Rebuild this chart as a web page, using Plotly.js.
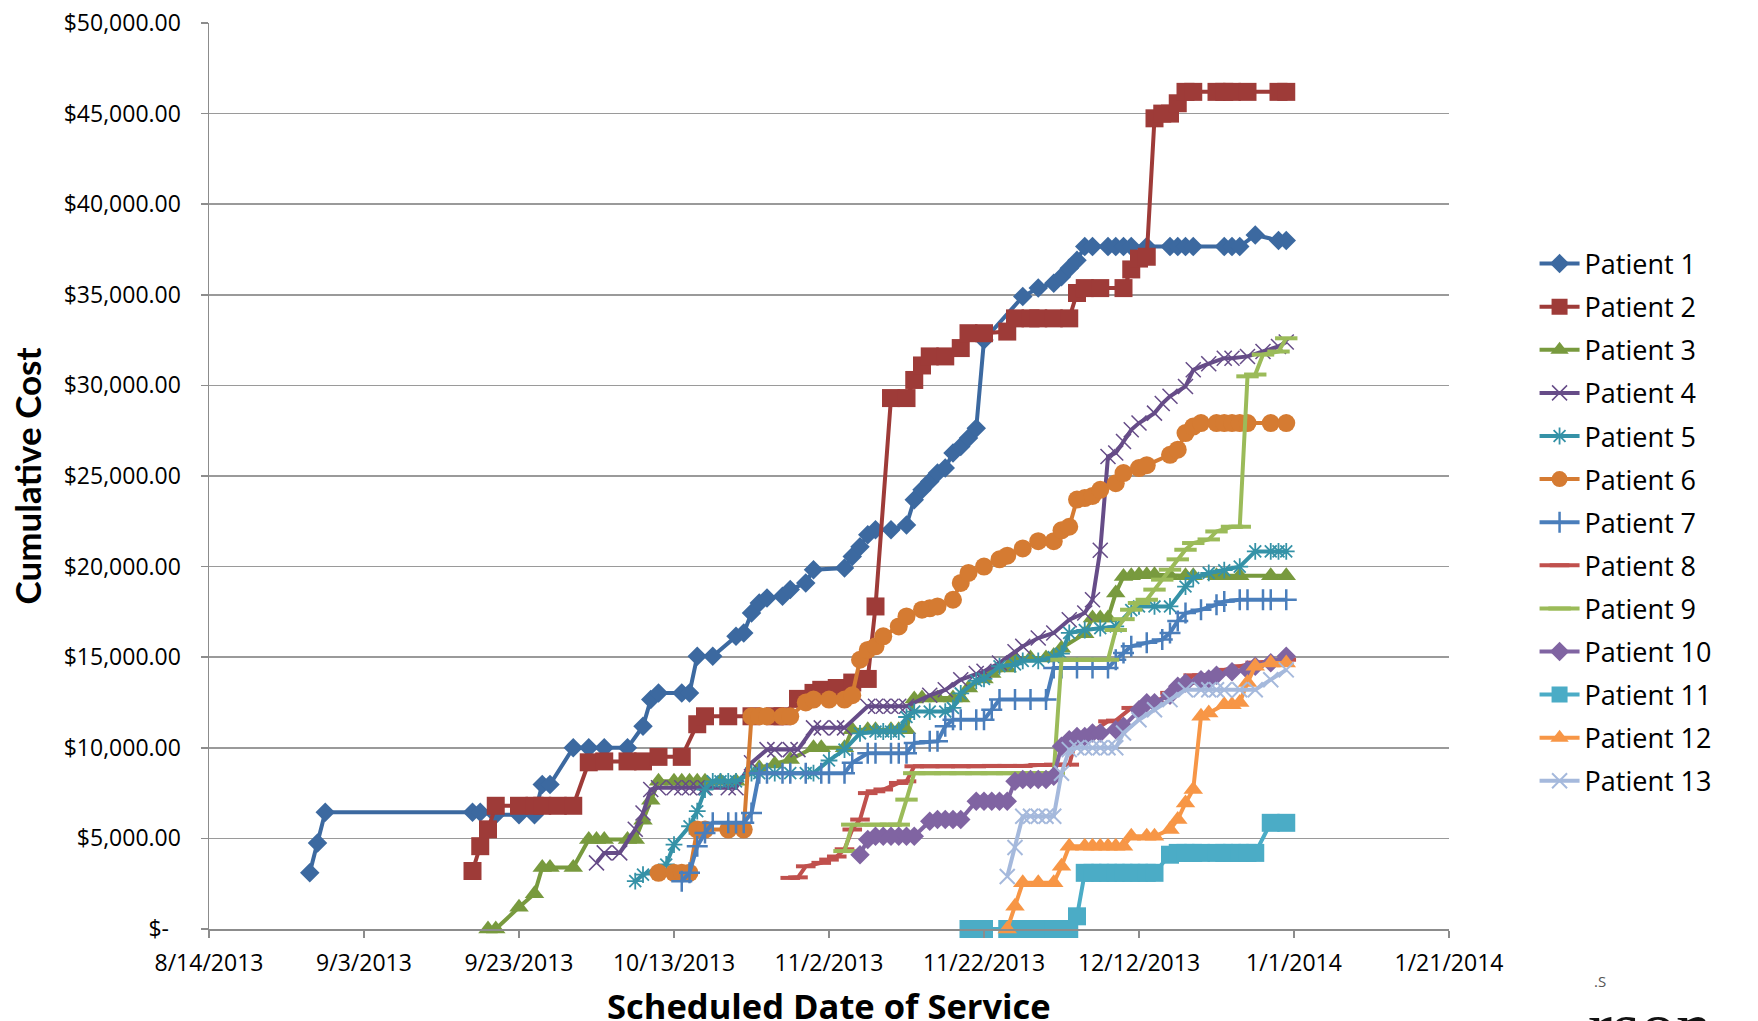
<!DOCTYPE html>
<html><head><meta charset="utf-8">
<script src="https://cdn.plot.ly/plotly-3.0.1.min.js"></script>
<style>html,body{margin:0;padding:0;background:#fff;}#chart{width:1758px;height:1021px;}</style>
</head><body><div id="chart"></div>
<script>
// Days are counted from 8/14/2013 (the first x-axis tick); costs are cumulative US dollars.
const seriesNames = ['Patient 1','Patient 2','Patient 3','Patient 4','Patient 5','Patient 6','Patient 7','Patient 8','Patient 9','Patient 10','Patient 11','Patient 12','Patient 13'];

const p1Days = [13,14,15,34,35,37,40,42,43,44,47,49,51,54,56,57,58,61,62,63,65,68,69,70,71,72,74,75,77,78,82,83,84,85,86,88,90,91,92,93,94,95,96,97,98,99,100,105,107,109,110,111,112,113,114,116,117,118,119,121,124,125,126,127,131,132,133,135,138,139];
const p1Cost = [3100,4750,6440,6440,6440,6300,6300,6300,7970,7970,10000,10000,10000,10000,11190,12660,13030,13030,13030,15050,15050,16150,16340,17440,17990,18270,18360,18730,19100,19830,19920,20560,21100,21760,22040,22040,22300,23690,24240,24700,25160,25440,26270,26630,27100,27640,32500,34900,35370,35640,36000,36470,36900,37660,37660,37660,37660,37660,37660,37660,37660,37660,37660,37660,37660,37660,37660,38300,38000,38000];

const p2Days = [34,35,36,37,40,42,43,45,47,49,51,54,56,58,61,63,64,67,70,73,74,76,78,79,81,83,85,86,88,90,91,92,93,95,97,98,100,103,104,106,107,109,111,112,113,115,118,119,120,121,122,123,124,125,126,127,130,131,132,134,138,139];
const p2Cost = [3200,4570,5500,6800,6800,6800,6800,6800,6800,9200,9250,9250,9250,9500,9500,11300,11740,11740,11740,11740,11740,12700,13030,13200,13300,13600,13800,17800,29300,29300,30300,31100,31600,31600,32060,32880,32880,32970,33700,33700,33700,33700,33700,35100,35370,35370,35370,36400,37000,37100,44740,45000,45000,45570,46200,46200,46200,46200,46200,46200,46200,46200];

const p3Days = [36,37,40,42,43,44,47,49,50,51,54,55,56,57,58,60,61,62,63,64,66,68,71,73,75,78,79,82,83,85,86,88,89,90,91,92,94,96,97,98,100,101,103,104,106,108,109,110,113,114,115,116,117,118,119,120,121,122,124,126,127,130,131,133,137,139];
const p3Cost = [0,0,1200,1950,3400,3400,3400,4940,4940,4940,4940,4940,6000,7100,8150,8150,8150,8150,8150,8150,8150,8150,8900,9100,9350,10000,10000,10000,11000,11000,11000,11000,11000,11000,12700,12750,12750,12750,12750,13300,13800,14100,14400,14960,14960,14960,15100,15500,16300,17160,17160,17160,18540,19460,19500,19550,19550,19550,19500,19500,19500,19500,19500,19500,19500,19500];

const p4Days = [50,51,53,55,56,57,58,60,61,62,63,64,67,68,70,72,73,75,76,78,79,81,82,85,86,87,88,89,90,93,95,97,99,100,102,104,105,107,109,111,113,114,115,116,117,118,119,120,122,123,124,126,127,129,131,132,134,136,138,139];
const p4Cost = [3650,4200,4200,5500,6400,7700,7800,7800,7800,7800,7800,7800,7800,7800,9170,9900,9900,9900,9900,11100,11100,11100,11100,12290,12290,12290,12290,12290,12290,12900,13200,13760,14100,14220,14680,15300,15600,16060,16340,17070,17440,18170,20900,26080,26270,26900,27550,27920,28470,29000,29400,29940,30860,31200,31500,31500,31600,31870,32150,32400];

const p5Days = [55,56,59,60,62,63,64,65,66,67,68,70,71,73,75,77,78,80,82,84,86,87,88,89,90,91,93,95,96,97,99,100,102,104,105,107,109,110,111,113,115,117,119,120,122,124,126,127,129,131,133,135,137,138,139];
const p5Cost = [2640,3000,3560,4660,5670,6500,7700,8150,8150,8150,8150,8600,8600,8600,8600,8600,8600,9300,9900,10800,10900,10900,10900,10900,11700,12000,12000,12000,12200,13000,13700,13800,14500,14600,14800,14800,15000,15200,16340,16500,16600,16700,17600,17800,17800,17800,18900,19370,19650,19800,20000,20840,20840,20840,20840];

const p6Days = [58,60,61,62,63,64,67,69,70,71,72,74,75,77,78,80,82,83,84,85,86,87,89,90,92,93,94,96,97,98,100,102,103,105,107,109,110,111,112,113,114,115,117,118,120,121,124,125,126,127,128,130,131,132,133,134,137,139];
const p6Cost = [3100,3100,3100,3100,5490,5490,5490,5490,11740,11740,11740,11740,11740,12500,12660,12660,12660,12900,14860,15400,15600,16150,16700,17250,17620,17700,17800,18170,19100,19650,20000,20400,20600,21000,21400,21400,22000,22200,23700,23780,23900,24240,24600,25160,25440,25600,26170,26450,27370,27730,27920,27920,27920,27920,27920,27920,27920,27920];

const p7Days = [61,62,63,64,65,67,68,69,70,71,72,74,75,77,79,80,82,83,85,86,88,89,90,91,93,94,95,96,97,99,100,101,102,104,106,108,109,110,112,114,116,117,118,119,121,123,124,125,126,128,130,131,133,134,136,137,139];
const p7Cost = [2640,3100,4570,5300,5860,5860,5860,5860,6400,8600,8600,8600,8600,8600,8600,8600,8600,9170,9700,9700,9700,9700,9700,10270,10360,10360,11190,11550,11550,11550,11550,12100,12660,12660,12660,12660,14400,14400,14400,14400,14400,14860,15230,15600,15800,15970,16340,17000,17440,17620,17900,18080,18170,18170,18170,18170,18170];

const p8Days = [75,76,77,79,80,81,82,83,84,85,86,87,89,90,91,93,95,97,99,101,103,105,107,109,111,112,114,116,117,119,120,122,124,126,127,129,131,133,135,138,139];
const p8Cost = [2820,2850,3460,3650,3830,4000,4400,5490,6040,7500,7600,7700,8060,8150,8980,8980,8980,8980,8980,9000,9000,9000,9050,9070,9070,10630,10900,11460,11500,12200,12200,12480,13030,13580,14000,14000,14300,14500,14700,14800,14860];

const p9Days = [82,83,86,88,89,90,91,93,95,97,99,101,103,105,107,108,109,110,111,113,114,116,117,118,119,120,121,122,123,124,125,126,127,129,130,132,133,134,135,136,138,139];
const p9Cost = [4300,5760,5760,5760,5760,7140,8600,8600,8600,8600,8600,8600,8600,8600,8600,8600,8600,14860,14860,14860,14860,14860,16500,17100,17620,17990,18170,18730,19280,19830,20400,20930,21300,21500,21940,22200,22200,30500,30600,31700,31870,32600];

const p10Days = [84,85,86,87,88,89,90,91,93,94,95,96,97,99,100,101,102,103,104,105,106,107,108,109,110,111,112,113,114,115,117,118,120,121,122,124,125,126,128,129,130,132,134,135,137,139];
const p10Cost = [4100,4940,5120,5120,5120,5120,5120,5120,5950,6040,6040,6040,6040,7050,7050,7050,7050,7050,8150,8250,8250,8250,8250,8430,10080,10450,10630,10630,10820,10820,11000,11190,12100,12480,12480,12900,13400,13580,13760,13800,14000,14200,14300,14500,14700,15050];

const p11Days = [98,100,103,104,105,107,108,109,111,112,113,114,115,116,117,118,119,120,121,122,124,125,126,127,128,130,131,132,133,134,135,137,139];
const p11Cost = [0,0,0,0,0,0,0,0,0,700,3100,3100,3100,3100,3100,3100,3100,3100,3100,3100,4100,4200,4200,4200,4200,4200,4200,4200,4200,4200,4200,5860,5860];

const p12Days = [103,104,105,107,109,110,111,113,114,115,116,117,118,119,121,122,124,125,126,127,128,129,131,132,133,134,135,137,139];
const p12Cost = [0,1260,2550,2550,2550,3460,4570,4570,4570,4570,4570,4570,4570,5120,5120,5120,5490,6040,6960,7700,11740,11920,12380,12380,12500,13600,14500,14680,14680];

const p13Days = [103,104,105,106,107,108,109,110,111,112,113,114,115,116,117,118,120,122,124,126,128,129,130,131,133,135,137,139];
const p13Cost = [2900,4500,6220,6220,6220,6220,6220,8600,9900,10000,10000,10000,10000,10000,10000,10820,11550,12100,12660,13200,13200,13200,13200,13200,13200,13200,13760,14300];

const yTickVals = [0,5000,10000,15000,20000,25000,30000,35000,40000,45000,50000];
const yTickText = ['$-\u00a0\u00a0','$5,000.00','$10,000.00','$15,000.00','$20,000.00','$25,000.00','$30,000.00','$35,000.00','$40,000.00','$45,000.00','$50,000.00'];

const AXIS_START = '2013-08-14';
const AXIS_END = '2014-01-21';
const DAY_MS = 86400000;
const startMs = Date.UTC(2013, 7, 14);
function dayToDate(d) { return new Date(startMs + d * DAY_MS).toISOString().slice(0, 10); }

const allDays = [p1Days,p2Days,p3Days,p4Days,p5Days,p6Days,p7Days,p8Days,p9Days,p10Days,p11Days,p12Days,p13Days];
const allCost = [p1Cost,p2Cost,p3Cost,p4Cost,p5Cost,p6Cost,p7Cost,p8Cost,p9Cost,p10Cost,p11Cost,p12Cost,p13Cost];

// styles
const styles = [
  {c:'#3C69A0', s:'diamond', z:15, lw:0},
  {c:'#9E3B38', s:'square', z:18, lw:0},
  {c:'#789A3E', s:'triangle-up', z:17, lw:0},
  {c:'#664C88', s:'x-thin', z:15, lw:1.5},
  {c:'#3592A7', s:'asterisk-open', z:14, lw:1.8},
  {c:'#D57B32', s:'circle', z:18, lw:0},
  {c:'#4A7EBB', s:'cross-thin', z:15, lw:2.5},
  {c:'#C0504D', s:'line-ew', z:14, lw:4},
  {c:'#9BBB59', s:'line-ew', z:16, lw:4},
  {c:'#8064A2', s:'diamond', z:15, lw:0},
  {c:'#4BACC6', s:'square', z:18, lw:0},
  {c:'#F79646', s:'triangle-up', z:17, lw:0},
  {c:'#A5B9DC', s:'x-thin', z:15, lw:2}
];

const traces = seriesNames.map((name, i) => ({
  type: 'scatter',
  mode: 'lines+markers',
  name: name,
  legendgroup: 'g' + i,
  x: allDays[i].map(dayToDate),
  y: allCost[i],
  cliponaxis: false,
  line: {color: styles[i].c, width: 4},
  marker: {symbol: styles[i].s, size: styles[i].z, color: styles[i].c,
           line: {color: styles[i].c, width: styles[i].lw}},
  hoverinfo: 'x+y+name'
}));

const tickFont = {family: 'Open Sans, Liberation Sans, sans-serif', size: 23, color: '#000'};
const layout = {
  width: 1758, height: 1021,
  margin: {l: 209, r: 309, t: 23, b: 91.5, pad: 0},
  paper_bgcolor: '#ffffff', plot_bgcolor: '#ffffff',
  showlegend: true,
  xaxis: {
    type: 'date', range: [AXIS_START, AXIS_END], autorange: false,
    tick0: AXIS_START, dtick: 20 * DAY_MS, tickformat: '%-m/%-d/%Y',
    showgrid: false, zeroline: false, showline: true, linecolor: '#8c8c8c', linewidth: 1.5,
    ticks: 'outside', ticklen: 7, tickwidth: 1.5, tickcolor: '#8c8c8c', ticklabelstandoff: 6,
    tickfont: tickFont
  },
  yaxis: {
    range: [0, 50000], autorange: false, tickmode: 'array', tickvals: yTickVals, ticktext: yTickText,
    showgrid: true, gridcolor: '#9a9a9a', gridwidth: 1.5, zeroline: false,
    showline: true, linecolor: '#8c8c8c', linewidth: 1.5,
    ticks: 'outside', ticklen: 7, tickwidth: 1.5, tickcolor: '#8c8c8c', ticklabelstandoff: 15,
    tickfont: tickFont,
    title: {text: 'Cumulative Cost', standoff: 11,
            font: {family: 'Lato, Open Sans, sans-serif', size: 35, color: '#000', weight: 'bold'}}
  },
  legend: {
    x: 1.069, xanchor: 'left', y: 0.761, yanchor: 'top',
    traceorder: 'grouped', tracegroupgap: 5, itemwidth: 40,
    bgcolor: 'rgba(0,0,0,0)', borderwidth: 0,
    font: {family: 'Open Sans, sans-serif', size: 27, color: '#000'}
  },
  annotations: [
    {xref: 'paper', yref: 'paper', x: 0.5, y: (929.5 - 1006) / 906.5, xanchor: 'center', yanchor: 'middle',
     text: '<b>Scheduled Date of Service</b>', showarrow: false,
     font: {family: 'Open Sans, sans-serif', size: 34.5, color: '#000'}},
    {xref: 'paper', yref: 'paper', x: (1592 - 209) / 1240, y: (929.5 - 970) / 906.5, xanchor: 'left', yanchor: 'top',
     text: '.S', showarrow: false, font: {family: 'Open Sans, sans-serif', size: 15, color: '#555'}},
    {xref: 'paper', yref: 'paper', x: (1586 - 209) / 1240, y: (929.5 - 986) / 906.5, xanchor: 'left', yanchor: 'top',
     text: 'rson', showarrow: false, font: {family: 'Liberation Serif, serif', size: 72, color: '#111'}}
  ]
};

Plotly.newPlot('chart', traces, layout, {displayModeBar: false, staticPlot: true});
</script></body></html>
